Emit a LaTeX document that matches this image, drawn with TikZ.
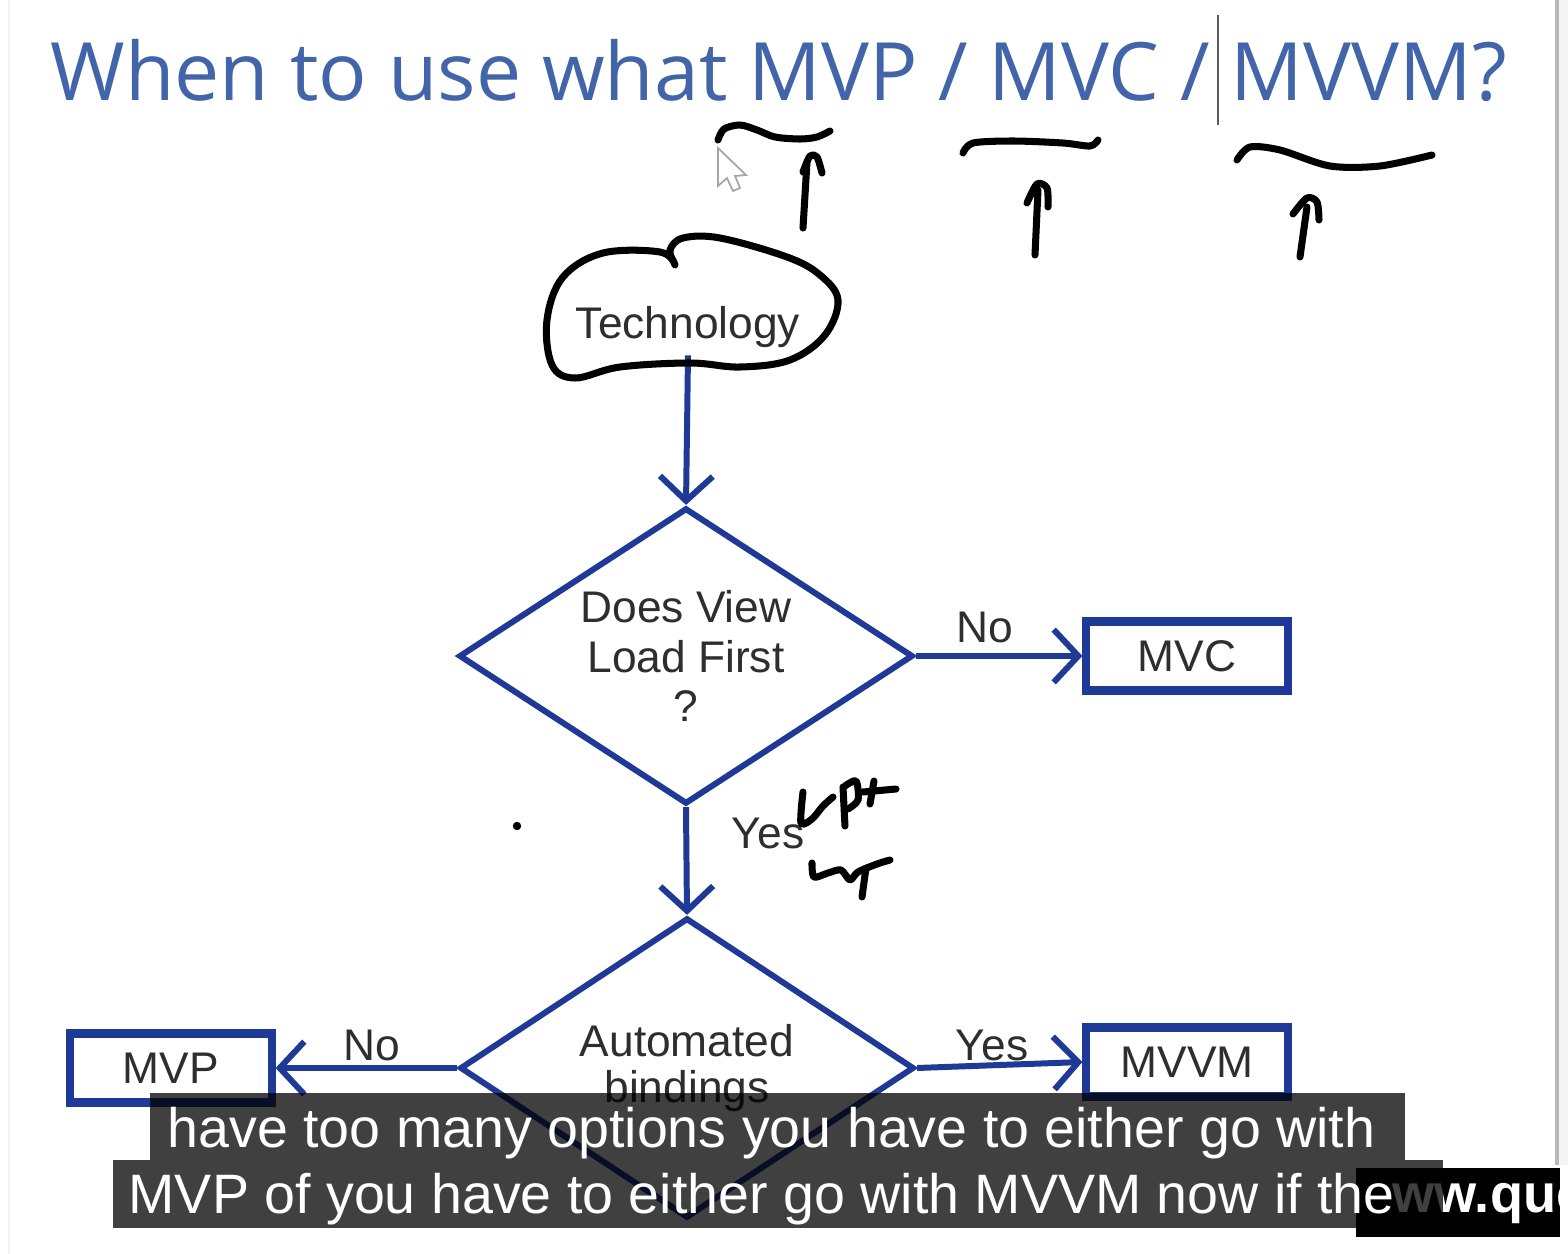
\documentclass[tikz,border=0pt]{standalone}
\usepackage{fontspec}
\setmainfont{Liberation Sans}
\newfontfamily\titlefont{Open Sans}
\usepackage{tikz}
\usetikzlibrary{arrows.meta,shapes.geometric}
\definecolor{flowblue}{HTML}{1E3A96}
\definecolor{titleblue}{HTML}{4264A8}
\definecolor{textgray}{HTML}{2E2E2E}

\begin{document}
\begin{tikzpicture}[x=0.01cm, y=-0.01cm,
  every node/.style={font=\fontsize{12.6}{14}\selectfont, text=textgray},
  flow/.style={flowblue, line width=1.7pt, -{Straight Barb[length=7pt, width=15pt]}},
  decision/.style={diamond, draw=flowblue, line width=1.7pt, inner sep=0pt, align=center, aspect=1.53},
  outcome/.style={draw=flowblue, line width=2.3pt, inner sep=0pt,
    minimum width=2.01cm, minimum height=0.69cm},
  ink/.style={black, line width=2pt, line cap=round, line join=round},
  subtext/.style={anchor=base west, inner sep=0pt, text=white, font=\fontsize{15.8}{18}\selectfont}]

% page
\fill[white] (0,0) rectangle (1568,1254);
\useasboundingbox (0,0) rectangle (1568,1254);
\draw[gray!12, line width=0.8pt] (9,0) -- (9,1254);
\fill[gray!8] (1557,0) rectangle (1568,1165);
\draw[gray!55, line width=1pt] (1557,0) -- (1557,1165);

% title
\node[anchor=base west, inner sep=0pt, text=titleblue,
  font=\titlefont\fontsize{22.9}{27}\selectfont] (title) at (50,100) {When to use what MVP / MVC / MVVM?};
\draw[gray!70!black, line width=0.6pt] (1218,15) -- (1218,125);

% flow chart
\node[inner sep=2pt] (tech) at (688,327) {Technology};
\node[decision, minimum width=4.54cm, minimum height=2.96cm] (d1) at (686,656) {Does View\\Load First\\?};
\node[decision, minimum width=4.54cm, minimum height=3.0cm, font=\fontsize{12.6}{13}\selectfont] (d2) at (687,1068) {Automated\\bindings};
\node[outcome] (mvc) at (1187,656) {MVC};
\node[outcome] (mvvm) at (1187,1062) {MVVM};
\node[outcome] (mvp) at (171,1068) {MVP};

\draw[flow] (tech.south) -- (d1.north);
\draw[flow] (d1.east) -- (mvc.west);
\draw[flow] (d1.south) -- (d2.north);
\draw[flow] (d2.east) -- (mvvm.west);
\draw[flow] (d2.west) -- (mvp.east);

\node (no1) at (985,627) {No};
\node (yes1) at (768,833) {Yes};
\node (no2) at (372,1045) {No};
\node (yes2) at (992,1045) {Yes};

% hand drawn marks
\draw[ink] plot[smooth, tension=0.6] coordinates {(675,265) (660,252) (603,253) (563,277) (547,320)
  (552,365) (575,378) (620,367) (690,363) (740,367) (790,360) (825,335) (838,300) (820,275)
  (787,257) (720,238) (683,238) (670,250) (674,262)};
\draw[ink] plot[smooth] coordinates {(718,140) (724,129) (740,125) (757,130) (775,137) (800,139) (817,137) (830,131)};
\draw[ink] plot[smooth] coordinates {(963,153) (973,143) (1013,141) (1063,143) (1090,146) (1098,140)};
\draw[ink] plot[smooth] coordinates {(1237,160) (1250,147) (1280,150) (1330,166) (1380,166) (1432,155)};
\draw[ink] (803,228) -- (807,162);
\draw[ink] plot[smooth] coordinates {(803,172) (810,156) (817,157) (822,173)};
\draw[ink] (1035,255) -- (1038,190);
\draw[ink] plot[smooth] coordinates {(1027,203) (1037,184) (1047,188) (1048,207)};
\draw[ink] (1300,257) -- (1307,207);
\draw[ink] plot[smooth] coordinates {(1293,214) (1307,198) (1317,202) (1319,220)};
\draw[ink] plot[smooth] coordinates {(803,792) (801,823) (812,819) (823,806) (833,797)};
\draw[ink] (843,787) -- (845,826);
\draw[ink] plot[smooth] coordinates {(845,786) (856,781) (858,800) (848,809)};
\draw[ink] (870,804) -- (874,781);
\draw[ink] (863,792) -- (896,789);
\draw[ink] plot[smooth] coordinates {(812,863) (814,877) (828,873) (841,870) (850,880) (858,872) (877,864) (890,860)};
\draw[ink] (866,868) -- (862,897);
\fill (517,826) circle (1.2pt);

% mouse pointer
\draw[gray!70, line width=0.5pt, fill=white] (718,148) -- (718,186) -- (727,178) -- (733,191)
  -- (740,188) -- (735,176) -- (746,175) -- cycle;

% watermark
\begin{scope}
  \clip (1356,1168) rectangle (1560,1237);
  \fill[black] (1356,1168) rectangle (1560,1237);
  \node[anchor=base west, inner sep=0pt, text=white, font=\bfseries\fontsize{15.4}{18}\selectfont] (mark) at (1392,1212) {ww.que};
\end{scope}

% captions
\fill[black, fill opacity=0.75] (150,1093) rectangle (1405,1160);
\fill[black, fill opacity=0.75] (113,1160) rectangle (1443,1228);
\node[subtext] (cap1) at (167,1147) {have too many options you have to either go with};
\node[subtext] (cap2) at (128,1213) {MVP of you have to either go with MVVM now if the};

\end{tikzpicture}
\end{document}
